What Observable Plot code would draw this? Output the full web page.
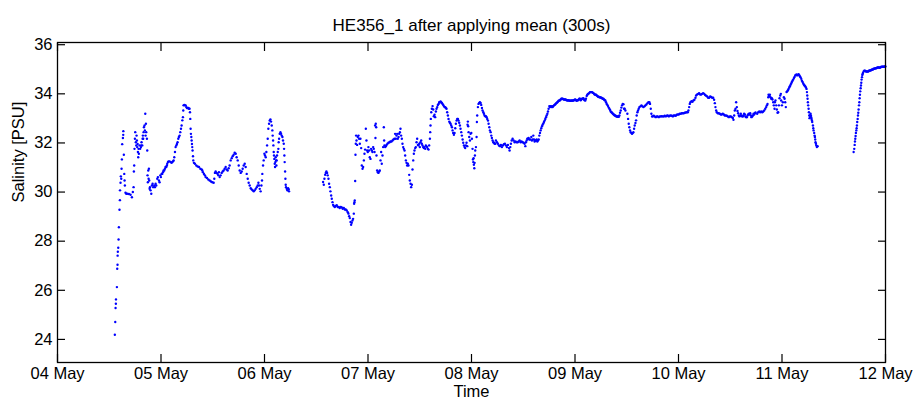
<!DOCTYPE html>
<html><head><meta charset="utf-8">
<script src="https://cdn.jsdelivr.net/npm/d3@7"></script>
<script src="https://cdn.jsdelivr.net/npm/@observablehq/plot@0.6"></script>
<style>html,body{margin:0;padding:0;background:#fff}</style>
</head><body><div id="chart"></div>
<script>
// [day of May (decimal), salinity PSU]
const legA = [[4.554,24.19],[4.558,24.71],[4.561,25.28],[4.564,25.45],[4.565,25.63],[4.574,26.13],[4.577,26.88],[4.580,27.04],[4.581,27.41],[4.583,27.57],[4.587,27.73],[4.590,28.07],[4.593,28.57],[4.599,29.28],[4.603,29.67],[4.604,30.07],[4.609,30.38],[4.612,30.64],[4.616,30.54],[4.619,30.95],[4.622,31.33],[4.625,31.95],[4.632,32.20],[4.635,32.33],[4.636,32.48],[4.641,31.52],[4.645,30.74],[4.648,30.47],[4.651,30.27],[4.657,29.97],[4.664,29.93],[4.674,29.93],[4.690,29.92],[4.706,29.89],[4.719,29.79],[4.728,30.00],[4.735,30.20],[4.738,30.84],[4.741,31.08],[4.744,31.76],[4.748,32.17],[4.751,32.44],[4.757,32.03],[4.761,31.90],[4.764,32.30],[4.767,32.10],[4.770,31.83],[4.774,31.96],[4.777,31.63],[4.780,31.42],[4.783,31.76],[4.786,31.56],[4.793,31.90],[4.799,31.76],[4.806,31.83],[4.809,31.90],[4.812,32.03],[4.819,31.90],[4.822,32.17],[4.825,32.30],[4.828,32.17],[4.832,32.44],[4.835,32.64],[4.841,32.71],[4.844,32.51],[4.848,33.19],[4.851,32.30],[4.854,32.78],[4.857,32.44],[4.864,32.17],[4.867,31.69],[4.870,30.68],[4.873,30.40],[4.877,30.88],[4.880,30.54],[4.883,30.95],[4.886,30.47],[4.890,30.13],[4.893,30.20],[4.899,30.07],[4.906,29.93],[4.912,30.27],[4.919,30.34],[4.925,30.20],[4.935,30.27],[4.941,30.20],[4.948,30.34],[4.954,30.27],[4.964,30.54],[4.970,30.61],[4.980,30.47],[4.986,30.40],[4.993,30.68],[4.999,30.61],[5.006,30.74],[5.012,30.74],[5.019,30.81],[5.025,30.88],[5.031,30.88],[5.038,30.95],[5.044,31.02],[5.051,31.02],[5.057,31.08],[5.060,31.15],[5.067,31.22],[5.073,31.25],[5.083,31.25],[5.093,31.22],[5.102,31.19],[5.109,31.22],[5.115,31.25],[5.122,31.29],[5.128,31.42],[5.135,31.63],[5.141,31.83],[5.148,31.90],[5.154,31.96],[5.160,32.03],[5.167,32.17],[5.173,32.24],[5.180,32.30],[5.186,32.44],[5.193,32.58],[5.199,32.71],[5.206,32.92],[5.212,33.05],[5.215,33.32],[5.218,33.53],[5.225,33.55],[5.231,33.53],[5.238,33.53],[5.244,33.46],[5.251,33.42],[5.257,33.42],[5.264,33.42],[5.270,33.39],[5.276,33.39],[5.280,33.25],[5.283,32.98],[5.286,32.58],[5.289,32.37],[5.293,32.24],[5.296,32.10],[5.299,31.96],[5.302,31.83],[5.305,31.69],[5.309,31.46],[5.312,31.29],[5.318,31.19],[5.328,31.15],[5.341,31.08],[5.354,31.04],[5.367,31.02],[5.380,30.95],[5.393,30.92],[5.399,30.88],[5.405,30.81],[5.415,30.74],[5.425,30.68],[5.431,30.61],[5.444,30.57],[5.457,30.51],[5.470,30.47],[5.483,30.43],[5.496,30.40],[5.509,30.38],[5.515,30.54],[5.521,30.78],[5.528,30.84],[5.538,30.78],[5.547,30.74],[5.554,30.68],[5.560,30.81],[5.567,30.61],[5.576,30.68],[5.586,30.78],[5.596,30.84],[5.605,30.88],[5.615,30.95],[5.625,31.02],[5.634,30.92],[5.644,30.88],[5.654,30.97],[5.663,31.08],[5.673,31.29],[5.683,31.38],[5.692,31.46],[5.702,31.52],[5.712,31.60],
[5.722,31.56],[5.731,31.42],[5.741,31.29],[5.751,31.08],[5.760,30.88],[5.770,30.78],[5.780,30.84],[5.789,30.95],[5.799,31.08],[5.809,31.15],[5.818,31.02],[5.828,30.74],[5.838,30.54],[5.847,30.38],[5.857,30.27],[5.867,30.16],[5.876,30.11],[5.886,30.07],[5.896,30.03],[5.905,30.07],[5.915,30.13],[5.925,30.20],[5.934,30.27],[5.941,30.38],[5.947,30.27],[5.954,30.13],[5.963,30.03],[5.970,30.27],[5.976,30.47],[5.979,30.74],[5.986,31.08],[5.992,31.29],[5.999,31.56],[6.005,31.49],[6.012,31.42],[6.018,31.63],[6.025,31.90],[6.031,32.17],[6.037,32.58],[6.044,32.78],[6.050,32.91],[6.057,32.96],[6.063,32.87],[6.070,32.71],[6.076,32.51],[6.079,32.30],[6.083,32.10],[6.086,31.90],[6.089,31.63],[6.092,31.49],[6.095,31.35],[6.099,31.15],[6.102,31.02],[6.105,31.22],[6.108,31.42],[6.112,31.29],[6.115,31.08],[6.118,31.29],[6.121,31.49],[6.128,31.63],[6.134,31.76],[6.137,32.03],[6.141,32.17],[6.147,32.37],[6.154,32.44],[6.160,32.37],[6.166,32.30],[6.173,32.24],[6.179,32.10],[6.186,31.97],[6.189,31.76],[6.192,31.49],[6.195,31.22],[6.199,30.84],[6.202,30.54],[6.205,30.30],[6.208,30.20],[6.215,30.13],[6.221,30.07],[6.228,30.16],[6.234,30.11],[6.237,30.03]];

const legB = [[6.566,30.41],[6.573,30.30],[6.579,30.54],[6.586,30.70],[6.592,30.78],[6.598,30.84],[6.605,30.78],[6.611,30.68],[6.618,30.54],[6.624,30.34],[6.631,30.20],[6.637,30.03],[6.644,29.86],[6.650,29.73],[6.657,29.59],[6.663,29.48],[6.669,29.43],[6.679,29.39],[6.689,29.43],[6.698,29.46],[6.708,29.39],[6.718,29.39],[6.727,29.35],[6.737,29.39],[6.747,29.37],[6.756,29.32],[6.766,29.35],[6.776,29.29],[6.785,29.29],[6.795,29.25],[6.805,29.18],[6.811,29.12],[6.818,29.02],[6.824,28.94],[6.831,28.78],[6.837,28.67],[6.843,28.75],[6.850,28.84],[6.856,28.91],[6.863,29.12],[6.866,29.52],[6.869,29.59],[6.872,29.66],[6.876,30.45],[6.879,31.52],[6.882,31.97],[6.885,32.30],[6.889,32.10],[6.895,31.92],[6.901,32.24],[6.908,32.30],[6.914,32.17],[6.921,31.97],[6.927,32.17],[6.934,31.79],[6.940,31.08],[6.947,30.95],[6.953,31.02],[6.960,31.29],[6.966,31.56],[6.972,31.73],
[6.979,32.58],[6.985,32.10],[6.992,31.69],[6.998,31.63],[7.004,31.83],[7.011,31.69],[7.017,31.42],[7.024,31.35],[7.030,31.76],[7.037,31.69],[7.043,31.63],[7.050,31.83],[7.056,31.76],[7.063,31.63],[7.069,32.71],[7.072,32.20],[7.075,32.78],[7.079,32.64],[7.082,31.49],[7.088,30.88],[7.095,30.81],[7.101,30.78],[7.108,30.84],[7.114,30.88],[7.121,31.29],[7.127,31.63],[7.133,31.15],[7.140,31.49],[7.146,31.83],[7.153,32.64],[7.156,32.10],[7.159,31.90],[7.166,31.83],[7.172,31.87],[7.179,31.92],[7.188,31.97],[7.198,32.01],[7.208,32.03],[7.217,32.06],[7.227,32.06],[7.237,32.10],[7.246,32.14],[7.256,32.17],[7.262,32.37],[7.269,32.17],[7.275,32.30],[7.282,32.37],[7.288,32.17],[7.295,32.24],[7.301,32.37],[7.308,32.44],[7.314,32.58],[7.320,32.30],[7.327,32.17],[7.333,31.97],[7.340,31.83],[7.346,31.76],[7.353,31.69],[7.359,31.49],[7.366,31.29],[7.372,31.19],[7.378,31.08],[7.385,31.15],[7.391,31.08],[7.398,30.70],[7.404,30.47],[7.411,30.34],[7.417,30.20],[7.424,30.30],[7.430,30.92],[7.437,31.29],[7.443,31.56],[7.449,31.69],[7.456,31.79],[7.462,31.83],[7.469,32.03],[7.475,32.17],[7.482,31.92],[7.488,31.90],[7.495,31.97],[7.501,31.83],[7.507,32.03],[7.514,32.10],[7.520,31.97],[7.527,31.90],[7.533,31.83],[7.540,31.79],[7.546,31.83],[7.553,31.76],[7.559,31.90],[7.565,31.86],[7.572,31.83],[7.578,31.76],[7.585,31.73],[7.591,31.90],[7.598,32.17],[7.601,32.44],[7.604,32.71],[7.607,32.98],[7.611,33.25],[7.617,33.39],[7.624,33.50],[7.630,33.36],[7.636,33.09],[7.643,33.15],[7.649,33.05],[7.656,33.28],[7.662,33.39],[7.669,33.46],[7.675,33.55],[7.682,33.59],[7.688,33.66],[7.694,33.66],[7.701,33.69],[7.707,33.66],[7.714,33.63],[7.720,33.59],[7.727,33.55],[7.733,33.50],[7.740,33.46],[7.746,33.46],[7.752,33.42],[7.759,33.39],[7.765,33.25],[7.772,33.12],[7.778,32.98],[7.785,32.87],[7.791,32.82],[7.798,32.78],[7.804,32.71],[7.811,32.64],[7.817,32.51],[7.823,32.41],[7.830,32.33],[7.836,32.41],[7.843,32.60],[7.849,32.78],[7.856,32.91],[7.862,32.98],[7.869,32.98],[7.875,32.91],[7.881,32.82],[7.888,32.71],[7.894,32.58],[7.901,32.44],[7.907,32.30],[7.914,32.14],[7.920,32.01],[7.927,31.90],[7.933,31.83],[7.939,31.79],[7.946,31.90],[7.952,32.01],[7.959,31.87],[7.962,32.74],[7.965,32.87],[7.968,32.68],[7.972,32.44],[7.978,32.24],[7.985,32.10],[7.991,32.37],[7.998,32.41],[8.004,32.17],[8.010,31.76],[8.014,31.33],[8.017,31.22],[8.020,31.38],[8.023,31.11],[8.027,30.97],[8.030,31.19],[8.033,31.49],[8.036,31.69],[8.043,31.83],[8.049,32.24],[8.052,32.85],[8.055,33.12],[8.062,33.46],[8.068,33.59],[8.075,33.63],[8.081,33.66],[8.088,33.63],[8.094,33.55],[8.101,33.42],[8.107,33.32],[8.114,33.25],[8.120,33.19],[8.126,33.12],[8.133,33.09],[8.139,33.09],[8.146,33.05],[8.152,32.98],[8.159,32.91],[8.165,32.78],[8.172,32.64],[8.178,32.51],[8.185,32.44],[8.191,32.30],[8.197,32.20],[8.204,32.10],[8.210,32.03],[8.217,32.01],[8.223,31.97],[8.230,31.97],
[8.236,32.10],[8.246,32.03],[8.255,31.97],[8.265,31.90],[8.275,31.87],[8.284,31.92],[8.294,31.83],[8.304,31.90],[8.313,31.95],[8.323,31.97],[8.333,31.90],[8.342,31.83],[8.352,31.92],[8.362,31.79],[8.368,31.69],[8.375,31.83],[8.381,31.97],[8.388,32.10],[8.397,32.17],[8.407,32.10],[8.417,32.03],[8.426,32.06],[8.436,32.03],[8.446,32.03],[8.455,32.06],[8.465,32.10],[8.475,32.03],[8.484,32.06],[8.494,32.03],[8.504,32.01],[8.513,31.97],[8.520,31.87],[8.526,32.03],[8.533,32.10],[8.539,32.17],[8.546,32.17],[8.552,32.20],[8.558,32.14],[8.568,32.14],[8.578,32.24],[8.584,32.10],[8.591,32.14],[8.597,32.30],[8.604,32.14],[8.610,32.06],[8.616,32.10],[8.623,32.10],[8.629,32.14],[8.636,32.06],[8.642,32.10],[8.649,32.14],[8.655,32.30],[8.662,32.41],[8.668,32.51],[8.674,32.60],[8.681,32.68],[8.687,32.74],[8.694,32.79],[8.700,32.85],[8.707,32.91],[8.713,32.98],[8.720,33.05],[8.726,33.12],[8.733,33.19],[8.739,33.28],[8.745,33.39],[8.752,33.50],[8.758,33.46],[8.765,33.50],[8.771,33.46],[8.778,33.50],[8.784,33.46],[8.791,33.50],[8.797,33.53],[8.803,33.55],[8.810,33.58],[8.816,33.61],[8.823,33.63],[8.829,33.66],[8.836,33.69],[8.842,33.72],[8.849,33.73],[8.855,33.74],[8.861,33.77],[8.868,33.80],[8.874,33.80],[8.881,33.80],[8.887,33.78],[8.894,33.77],[8.900,33.77],[8.907,33.77],[8.913,33.76],[8.919,33.74],[8.926,33.73],[8.932,33.74],[8.939,33.73],[8.945,33.73],[8.952,33.72],[8.958,33.72],[8.965,33.73],[8.971,33.72],[8.978,33.73],[8.984,33.73],[8.990,33.74],[8.997,33.76],[9.003,33.77],[9.010,33.74],[9.016,33.72],[9.023,33.74],[9.029,33.74],[9.036,33.77],[9.042,33.80],[9.048,33.80],[9.055,33.74],[9.061,33.77],[9.068,33.80],[9.074,33.80],[9.081,33.82],[9.087,33.77],[9.094,33.74],[9.100,33.73],[9.106,33.80],[9.113,33.91],[9.119,33.96],[9.126,33.99],[9.132,34.01],[9.139,34.04],[9.145,34.07],[9.152,34.07],[9.158,34.07],[9.165,34.07],[9.171,34.04],[9.177,34.04],[9.184,34.00],[9.190,33.97],[9.197,33.96],[9.203,33.96],[9.210,33.93],[9.216,33.91],[9.223,33.88],[9.229,33.88],[9.235,33.86],[9.242,33.86],[9.248,33.85],[9.255,33.84],[9.261,33.82],[9.268,33.80],[9.274,33.80],[9.281,33.77],[9.287,33.74],[9.293,33.73],[9.300,33.66],[9.306,33.59],[9.313,33.55],[9.319,33.50],[9.326,33.44],[9.332,33.39],[9.339,33.34],[9.345,33.28],[9.352,33.25],[9.358,33.23],[9.364,33.20],[9.371,33.17],[9.377,33.15],[9.384,33.12],[9.390,33.12],[9.397,33.09],[9.403,33.08],[9.410,33.06],[9.416,33.09],[9.422,33.06],[9.429,33.12],[9.435,33.23],[9.442,33.32],[9.448,33.44],[9.455,33.53],[9.461,33.59],[9.468,33.58],[9.474,33.39],[9.480,33.39],[9.487,33.32],
[9.506,33.19],[9.513,32.98],[9.519,32.78],[9.525,32.64],[9.532,32.51],[9.538,32.44],[9.545,32.40],[9.551,32.37],[9.558,32.40],[9.564,32.44],[9.571,32.58],[9.577,32.71],[9.584,32.81],[9.590,32.92],[9.596,33.12],[9.603,33.25],[9.609,33.32],[9.616,33.39],[9.622,33.46],[9.632,33.49],[9.642,33.53],[9.651,33.49],[9.661,33.46],[9.671,33.49],[9.680,33.53],[9.690,33.57],[9.700,33.62],[9.709,33.66],[9.719,33.66],[9.725,33.59],[9.732,33.39],[9.738,33.19],[9.745,33.08],[9.751,33.08],[9.761,33.11],[9.770,33.08],[9.780,33.05],[9.790,33.08],[9.799,33.08],[9.809,33.05],[9.819,33.08],[9.828,33.08],[9.838,33.09],[9.848,33.08],[9.858,33.08],[9.867,33.11],[9.877,33.08],[9.887,33.11],[9.896,33.12],[9.906,33.08],[9.916,33.11],[9.925,33.12],[9.935,33.11],[9.945,33.08],[9.954,33.12],[9.964,33.12],[9.974,33.11],[9.983,33.15],[9.993,33.16],[10.003,33.16],[10.012,33.19],[10.022,33.19],[10.032,33.21],[10.041,33.21],[10.051,33.21],[10.061,33.23],[10.070,33.24],[10.080,33.25],[10.090,33.25],[10.096,33.32],[10.103,33.46],[10.109,33.59],[10.115,33.66],[10.125,33.70],[10.135,33.68],[10.144,33.73],[10.154,33.76],[10.164,33.84],[10.170,33.93],[10.180,33.97],[10.190,34.00],[10.199,34.03],[10.209,33.97],[10.219,33.97],[10.228,34.00],[10.238,34.03],[10.248,34.00],[10.257,33.95],[10.267,33.92],[10.277,33.89],[10.286,33.84],[10.296,33.84],[10.306,33.89],[10.315,33.87],[10.325,33.84],[10.335,33.84],[10.344,33.76],[10.351,33.62],[10.357,33.46],[10.364,33.32],[10.370,33.25],[10.380,33.21],[10.389,33.21],[10.399,33.19],[10.409,33.16],[10.418,33.16],[10.428,33.19],[10.438,33.16],[10.447,33.12],[10.457,33.12],[10.467,33.11],[10.477,33.08],[10.486,33.05],[10.496,33.08],[10.506,33.08],[10.515,33.05],[10.525,33.02],[10.531,32.94],[10.538,33.12],[10.544,33.32],[10.551,33.39],[10.557,33.66],[10.564,33.46],[10.570,33.30],[10.576,33.21],[10.583,33.12],[10.589,33.08],[10.596,33.11],[10.602,33.19],[10.609,33.12],[10.615,33.08],[10.622,33.08],[10.628,33.12],[10.634,33.19],[10.641,33.16],[10.647,33.08],[10.654,33.05],[10.660,33.05],[10.667,33.12],[10.673,33.16],[10.680,33.19],[10.686,33.16],[10.693,33.21],[10.699,33.12],[10.705,33.05],[10.712,33.08],[10.718,33.12],[10.725,33.19],[10.731,33.16],[10.738,33.21],[10.744,33.24],
[10.760,33.19],[10.770,33.25],[10.780,33.28],[10.789,33.25],[10.799,33.28],[10.809,33.25],[10.818,33.28],[10.828,33.32],[10.838,33.39],[10.847,33.46],[10.854,33.53],[10.860,33.59],[10.867,33.86],[10.870,33.96],[10.876,33.91],[10.883,33.96],[10.889,33.86],[10.896,33.80],[10.902,33.82],[10.908,33.77],[10.915,33.66],[10.921,33.53],[10.928,33.39],[10.931,33.66],[10.937,33.73],[10.944,33.53],[10.950,33.36],[10.957,33.23],[10.963,33.25],[10.970,33.53],[10.976,33.82],[10.983,33.93],[10.989,34.00],[10.992,33.73],[10.999,33.53],[11.008,33.66],[11.018,33.86],[11.025,33.80],[11.031,33.66],[11.037,33.46],[11.044,34.07],[11.050,34.10],[11.057,34.15],[11.063,34.20],[11.070,34.26],[11.076,34.31],[11.083,34.37],[11.089,34.42],[11.095,34.48],[11.102,34.53],[11.108,34.58],[11.115,34.64],[11.121,34.69],[11.128,34.75],[11.134,34.77],[11.141,34.79],[11.147,34.75],[11.154,34.77],[11.160,34.80],[11.166,34.77],[11.173,34.72],[11.179,34.67],[11.186,34.61],[11.192,34.53],[11.199,34.48],[11.205,34.42],[11.212,34.37],[11.218,34.34],[11.224,34.31],[11.231,34.26],[11.237,34.20],[11.241,34.07],[11.244,33.93],[11.247,33.80],[11.250,33.66],[11.253,33.53],[11.257,33.39],[11.260,33.25],[11.263,33.12],[11.266,33.01],[11.270,33.12],[11.273,33.05],[11.276,33.19],[11.279,33.12],[11.282,33.05],[11.286,32.98],[11.289,32.91],[11.292,32.85],[11.299,32.71],[11.302,32.60],[11.305,32.51],[11.311,32.41],[11.315,32.30],[11.318,32.24],[11.321,32.14],[11.324,32.03],[11.328,31.97],[11.331,31.90],[11.337,31.83],[11.344,31.87]];

const legC = [[11.692,31.63],[11.698,31.76],[11.702,31.92],[11.705,32.06],[11.708,32.17],[11.711,32.28],[11.714,32.41],[11.718,32.51],[11.721,32.60],[11.724,32.71],[11.727,32.85],[11.731,32.98],[11.734,33.12],[11.737,33.23],[11.740,33.36],[11.744,33.53],[11.747,33.66],[11.750,33.82],[11.753,33.96],[11.756,34.10],[11.760,34.23],[11.763,34.34],[11.766,34.45],[11.769,34.58],[11.773,34.68],[11.776,34.77],[11.779,34.81],[11.782,34.85],[11.789,34.91],[11.795,34.94],[11.802,34.94],[11.808,34.92],[11.814,34.91],[11.821,34.91],[11.827,34.91],[11.834,34.91],[11.840,34.94],[11.847,34.95],[11.853,34.95],[11.860,34.96],[11.866,34.98],[11.872,34.99],[11.879,34.99],[11.885,35.02],[11.892,35.02],[11.898,35.03],[11.905,35.04],[11.911,35.04],[11.918,35.06],[11.924,35.07],[11.931,35.07],[11.937,35.07],[11.943,35.06],[11.950,35.07],[11.956,35.09],[11.963,35.10],[11.969,35.10],[11.976,35.10],[11.982,35.10],[11.989,35.10],[11.995,35.11],[11.999,35.11]];

const dayTicks = [4, 5, 6, 7, 8, 9, 10, 11, 12];
const salinityTicks = [24, 26, 28, 30, 32, 34, 36];
const titleText = "HE356_1 after applying mean (300s)";
const xLabel = "Time";
const yLabel = "Salinity [PSU]";

const toDate = d => new Date(Date.UTC(2011, 4, 1) + (d - 1) * 864e5);
const points = [...legA, ...legB, ...legC].map(([d, s]) => ({time: toDate(d), salinity: s}));
const fmt = d3.utcFormat("%d %b");

const chart = Plot.plot({
  width: 918, height: 405,
  marginLeft: 57, marginRight: 33, marginTop: 42, marginBottom: 43,
  style: {fontFamily: "'Liberation Sans', Arial, sans-serif", fontSize: "16.5px", background: "white", color: "black"},
  x: {type: "utc", domain: [toDate(4), toDate(12)], label: null},
  y: {domain: [23.06, 36.09], label: null},
  marks: [
    Plot.dot(points, {x: "time", y: "salinity", r: 1.2, fill: "#0000ff", stroke: null}),
    Plot.frame({stroke: "black", strokeWidth: 1.3}),
    Plot.axisX(dayTicks.map(toDate), {anchor: "bottom", tickSize: -8, tickPadding: 13, tickFormat: fmt, label: null, strokeWidth: 1.2}),
    Plot.axisX(dayTicks.map(toDate), {anchor: "top", tickSize: -8, tickFormat: () => "", label: null, strokeWidth: 1.2}),
    Plot.axisY(salinityTicks, {anchor: "left", tickSize: -8, tickPadding: 13, label: null, strokeWidth: 1.2}),
    Plot.axisY(salinityTicks, {anchor: "right", tickSize: -8, tickFormat: () => "", label: null, strokeWidth: 1.2}),
    Plot.text([titleText], {frameAnchor: "top", dy: -24, fontSize: 17}),
    Plot.text([xLabel], {frameAnchor: "bottom", dy: 34, fontSize: 16.5}),
    Plot.text([yLabel], {frameAnchor: "left", dx: -39, rotate: -90, fontSize: 16.5})
  ]
});
document.getElementById("chart").appendChild(chart);
</script>
</body></html>
